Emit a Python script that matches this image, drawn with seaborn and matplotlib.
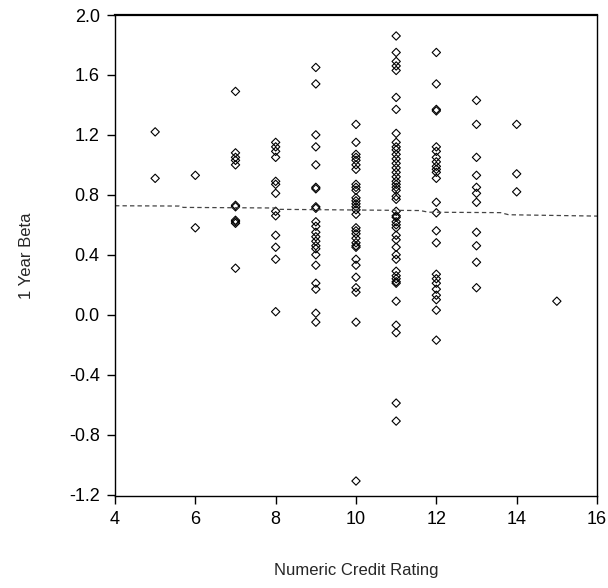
import matplotlib
matplotlib.use("Agg")
import matplotlib.pyplot as plt
import seaborn as sns
import pandas as pd

beta_5 = [1.22, 0.91]
beta_6 = [0.93, 0.58]
beta_7 = [1.49, 1.08, 1.05, 1.03, 1.00, 0.73, 0.72, 0.63, 0.62, 0.61, 0.31]
beta_8 = [1.15, 1.12, 1.09, 1.05, 0.89, 0.87, 0.81, 0.69, 0.66, 0.53, 0.45, 0.37, 0.02]
beta_9 = [1.65, 1.54, 1.20, 1.12, 1.00, 0.85, 0.84, 0.72, 0.71, 0.62, 0.59, 0.55,
          0.52, 0.49, 0.46, 0.44, 0.40, 0.33, 0.21, 0.17, 0.01, -0.05]
beta_10 = [1.27, 1.15, 1.07, 1.05, 1.03, 1.00, 0.97, 0.87, 0.85, 0.83, 0.78, 0.76,
           0.74, 0.72, 0.70, 0.67, 0.58, 0.56, 0.54, 0.51, 0.48, 0.46, 0.45, 0.37,
           0.33, 0.25, 0.18, 0.15, -0.05, -1.11]
beta_11 = [1.86, 1.75, 1.69, 1.66, 1.63, 1.45, 1.37, 1.21, 1.15, 1.12, 1.10, 1.07,
           1.04, 1.01, 0.98, 0.95, 0.92, 0.89, 0.87, 0.85, 0.83, 0.79, 0.77, 0.69,
           0.66, 0.65, 0.62, 0.60, 0.58, 0.53, 0.50, 0.45, 0.40, 0.37, 0.29, 0.26,
           0.24, 0.22, 0.21, 0.09, -0.07, -0.12, -0.59, -0.71]
beta_12 = [1.75, 1.54, 1.37, 1.36, 1.12, 1.09, 1.05, 1.02, 0.99, 0.97, 0.95, 0.91,
           0.75, 0.68, 0.56, 0.48, 0.27, 0.24, 0.21, 0.17, 0.13, 0.10, 0.03, -0.17]
beta_13 = [1.43, 1.27, 1.05, 0.93, 0.85, 0.81, 0.75, 0.55, 0.46, 0.35, 0.18]
beta_14 = [1.27, 0.94, 0.82]
beta_15 = [0.09]

columns = {5: beta_5, 6: beta_6, 7: beta_7, 8: beta_8, 9: beta_9, 10: beta_10,
           11: beta_11, 12: beta_12, 13: beta_13, 14: beta_14, 15: beta_15}

fit_x = [4, 5.6, 5.7, 8.0, 8.1, 11.6, 11.8, 13.6, 13.8, 16]
fit_y = [0.727, 0.725, 0.716, 0.712, 0.703, 0.695, 0.684, 0.681, 0.667, 0.658]

x_ticks = [4, 6, 8, 10, 12, 14, 16]
y_ticks = [-1.2, -0.8, -0.4, 0.0, 0.4, 0.8, 1.2, 1.6, 2.0]

rows = [(r, b) for r, vals in columns.items() for b in vals]
df = pd.DataFrame(rows, columns=["rating", "beta"])
fit = pd.DataFrame({"x": fit_x, "y": fit_y})

sns.set_theme(style="ticks")
plt.rcParams["font.family"] = ["Liberation Sans", "DejaVu Sans"]

fig = plt.figure(figsize=(6.08, 5.88), dpi=100)
ax = fig.add_axes([115 / 608, 1 - 496 / 588, 482 / 608, 481 / 588])

sns.lineplot(data=fit, x="x", y="y", ax=ax, color="#444444", linewidth=0.9,
             linestyle=(0, (3.5, 2.5)), sort=False)
sns.scatterplot(data=df, x="rating", y="beta", ax=ax, marker="D", s=18,
                facecolor="none", edgecolor="black", linewidth=0.8)

ax.set_xlim(4, 16)
ax.set_ylim(-1.21, 2.0)
ax.set_xticks(x_ticks)
ax.set_xticklabels([str(t) for t in x_ticks])
ax.set_yticks(y_ticks)
ax.set_yticklabels([f"{t:.1f}" for t in y_ticks])
ax.tick_params(axis="both", direction="out", length=6, width=1, colors="black",
               labelsize=13, pad=5)
for s in ax.spines.values():
    s.set_visible(True)
    s.set_color("black")
    s.set_linewidth(1.0)
ax.spines["top"].set_linewidth(1.6)

ax.set_xlabel("Numeric Credit Rating", fontsize=12, labelpad=25)
ax.set_ylabel("1 Year Beta", fontsize=12, labelpad=25)

fig.savefig("out.png", dpi=100)
